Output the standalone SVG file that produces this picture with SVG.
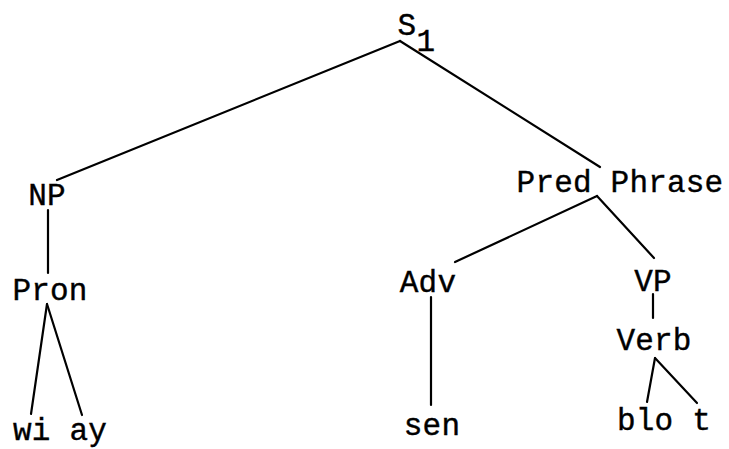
<svg xmlns="http://www.w3.org/2000/svg" width="729" height="449" viewBox="0 0 729 449">
<style>
text{font-family:"Liberation Mono","Courier New",monospace;font-size:31px;letter-spacing:0.2px;fill:#000;stroke:#000;stroke-width:0.4;text-anchor:middle}
.e line{stroke:#000;stroke-width:2.2;stroke-linecap:round}
</style>
<rect width="729" height="449" fill="#fff"/>
<g id="edges" class="e">
<line x1="400" y1="41" x2="57" y2="180"/>
<line x1="400" y1="41" x2="600" y2="167"/>
<line x1="48" y1="210" x2="48" y2="273"/>
<line x1="47" y1="304" x2="31" y2="414"/>
<line x1="47" y1="304" x2="82" y2="415"/>
<line x1="597" y1="196" x2="455" y2="262"/>
<line x1="597" y1="196" x2="654" y2="258"/>
<line x1="431" y1="297" x2="431" y2="405"/>
<line x1="653" y1="294" x2="653" y2="318"/>
<line x1="655" y1="358" x2="647" y2="402"/>
<line x1="655" y1="358" x2="697" y2="403"/>
</g>
<g id="S1"><text x="407" y="35">S</text><text x="426" y="51">1</text></g>
<g id="NP"><text x="47" y="205">NP</text></g>
<g id="Pron"><text x="50" y="300">Pron</text></g>
<g id="wiay"><text x="60" y="440">wi ay</text></g>
<g id="PredPhrase"><text x="620" y="192">Pred Phrase</text></g>
<g id="Adv"><text x="428" y="292">Adv</text></g>
<g id="sen"><text x="432" y="435">sen</text></g>
<g id="VP"><text x="653" y="291">VP</text></g>
<g id="Verb"><text x="654" y="350">Verb</text></g>
<g id="blot"><text x="664" y="430">blo t</text></g>
</svg>
